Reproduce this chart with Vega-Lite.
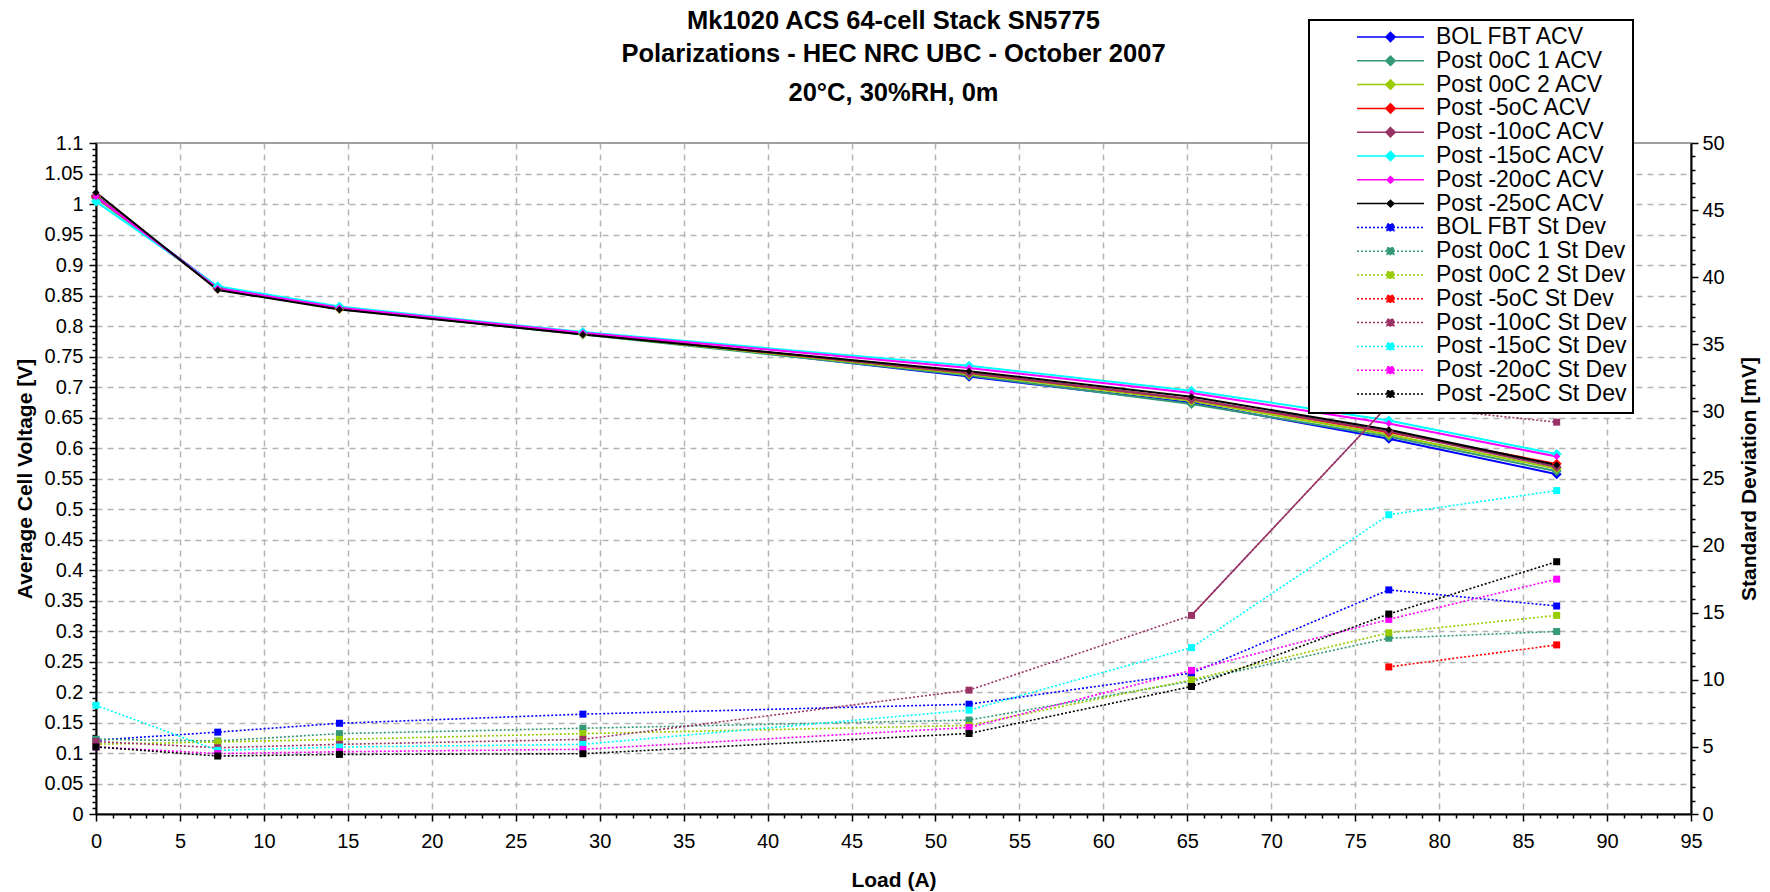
{
  "$schema": "https://vega.github.io/schema/vega-lite/v6.json",
  "width": 1595,
  "height": 671,
  "autosize": {"type": "none"},
  "padding": {"left": 96, "top": 143, "right": 79, "bottom": 78},
  "background": "white",
  "config": {
    "font": "Liberation Sans",
    "view": {"stroke": "#808080", "strokeWidth": 1.5}
  },
  "title": {
    "text": ["Mk1020 ACS 64-cell Stack SN5775", "Polarizations - HEC NRC UBC - October 2007"],
    "subtitle": "20°C, 30%RH, 0m",
    "font": "Liberation Sans",
    "fontSize": 25.5,
    "fontWeight": "bold",
    "color": "black",
    "subtitleFont": "Liberation Sans",
    "subtitleFontSize": 25.5,
    "subtitleFontWeight": "bold",
    "subtitleColor": "black",
    "lineHeight": 33,
    "subtitleLineHeight": 33,
    "subtitlePadding": 13,
    "anchor": "middle",
    "offset": -87
  },
  "datasets": {
    "acv": [
      {"load": 0, "series": "BOL FBT ACV", "v": 1.012}, {"load": 7.25, "series": "BOL FBT ACV", "v": 0.864}, {"load": 14.5, "series": "BOL FBT ACV", "v": 0.830}, {"load": 29, "series": "BOL FBT ACV", "v": 0.789}, {"load": 52, "series": "BOL FBT ACV", "v": 0.717}, {"load": 65.25, "series": "BOL FBT ACV", "v": 0.674}, {"load": 77, "series": "BOL FBT ACV", "v": 0.615}, {"load": 87, "series": "BOL FBT ACV", "v": 0.557},
      {"load": 0, "series": "Post 0oC 1 ACV", "v": 1.010}, {"load": 7.25, "series": "Post 0oC 1 ACV", "v": 0.862}, {"load": 14.5, "series": "Post 0oC 1 ACV", "v": 0.828}, {"load": 29, "series": "Post 0oC 1 ACV", "v": 0.786}, {"load": 52, "series": "Post 0oC 1 ACV", "v": 0.719}, {"load": 65.25, "series": "Post 0oC 1 ACV", "v": 0.672}, {"load": 77, "series": "Post 0oC 1 ACV", "v": 0.619}, {"load": 87, "series": "Post 0oC 1 ACV", "v": 0.562},
      {"load": 0, "series": "Post 0oC 2 ACV", "v": 1.012}, {"load": 7.25, "series": "Post 0oC 2 ACV", "v": 0.861}, {"load": 14.5, "series": "Post 0oC 2 ACV", "v": 0.828}, {"load": 29, "series": "Post 0oC 2 ACV", "v": 0.787}, {"load": 52, "series": "Post 0oC 2 ACV", "v": 0.721}, {"load": 65.25, "series": "Post 0oC 2 ACV", "v": 0.677}, {"load": 77, "series": "Post 0oC 2 ACV", "v": 0.622}, {"load": 87, "series": "Post 0oC 2 ACV", "v": 0.566},
      {"load": 0, "series": "Post -5oC ACV", "v": 1.012}, {"load": 7.25, "series": "Post -5oC ACV", "v": 0.862}, {"load": 14.5, "series": "Post -5oC ACV", "v": 0.829}, {"load": 29, "series": "Post -5oC ACV", "v": 0.788}, {"load": 52, "series": "Post -5oC ACV", "v": 0.723}, {"load": 65.25, "series": "Post -5oC ACV", "v": 0.680}, {"load": 77, "series": "Post -5oC ACV", "v": 0.626}, {"load": 87, "series": "Post -5oC ACV", "v": 0.574},
      {"load": 0, "series": "Post -10oC ACV", "v": 1.014}, {"load": 7.25, "series": "Post -10oC ACV", "v": 0.861}, {"load": 14.5, "series": "Post -10oC ACV", "v": 0.829}, {"load": 29, "series": "Post -10oC ACV", "v": 0.788}, {"load": 52, "series": "Post -10oC ACV", "v": 0.723}, {"load": 65.25, "series": "Post -10oC ACV", "v": 0.680}, {"load": 77, "series": "Post -10oC ACV", "v": 0.627}, {"load": 87, "series": "Post -10oC ACV", "v": 0.569},
      {"load": 0, "series": "Post -15oC ACV", "v": 1.004}, {"load": 7.25, "series": "Post -15oC ACV", "v": 0.865}, {"load": 14.5, "series": "Post -15oC ACV", "v": 0.832}, {"load": 29, "series": "Post -15oC ACV", "v": 0.790}, {"load": 52, "series": "Post -15oC ACV", "v": 0.735}, {"load": 65.25, "series": "Post -15oC ACV", "v": 0.694}, {"load": 77, "series": "Post -15oC ACV", "v": 0.645}, {"load": 87, "series": "Post -15oC ACV", "v": 0.590},
      {"load": 0, "series": "Post -20oC ACV", "v": 1.012}, {"load": 7.25, "series": "Post -20oC ACV", "v": 0.862}, {"load": 14.5, "series": "Post -20oC ACV", "v": 0.830}, {"load": 29, "series": "Post -20oC ACV", "v": 0.789}, {"load": 52, "series": "Post -20oC ACV", "v": 0.731}, {"load": 65.25, "series": "Post -20oC ACV", "v": 0.690}, {"load": 77, "series": "Post -20oC ACV", "v": 0.640}, {"load": 87, "series": "Post -20oC ACV", "v": 0.586},
      {"load": 0, "series": "Post -25oC ACV", "v": 1.019}, {"load": 7.25, "series": "Post -25oC ACV", "v": 0.859}, {"load": 14.5, "series": "Post -25oC ACV", "v": 0.827}, {"load": 29, "series": "Post -25oC ACV", "v": 0.786}, {"load": 52, "series": "Post -25oC ACV", "v": 0.726}, {"load": 65.25, "series": "Post -25oC ACV", "v": 0.684}, {"load": 77, "series": "Post -25oC ACV", "v": 0.630}, {"load": 87, "series": "Post -25oC ACV", "v": 0.572}
    ],
    "sd": [
      {"load": 0, "series": "BOL FBT St Dev", "v": 5.5}, {"load": 7.25, "series": "BOL FBT St Dev", "v": 6.1}, {"load": 14.5, "series": "BOL FBT St Dev", "v": 6.76}, {"load": 29, "series": "BOL FBT St Dev", "v": 7.44}, {"load": 52, "series": "BOL FBT St Dev", "v": 8.18}, {"load": 65.25, "series": "BOL FBT St Dev", "v": 10.5}, {"load": 77, "series": "BOL FBT St Dev", "v": 16.7}, {"load": 87, "series": "BOL FBT St Dev", "v": 15.5},
      {"load": 0, "series": "Post 0oC 1 St Dev", "v": 5.57}, {"load": 7.25, "series": "Post 0oC 1 St Dev", "v": 5.44}, {"load": 14.5, "series": "Post 0oC 1 St Dev", "v": 5.99}, {"load": 29, "series": "Post 0oC 1 St Dev", "v": 6.39}, {"load": 52, "series": "Post 0oC 1 St Dev", "v": 7.0}, {"load": 65.25, "series": "Post 0oC 1 St Dev", "v": 9.9}, {"load": 77, "series": "Post 0oC 1 St Dev", "v": 13.1}, {"load": 87, "series": "Post 0oC 1 St Dev", "v": 13.6},
      {"load": 0, "series": "Post 0oC 2 St Dev", "v": 5.2}, {"load": 7.25, "series": "Post 0oC 2 St Dev", "v": 5.37}, {"load": 14.5, "series": "Post 0oC 2 St Dev", "v": 5.56}, {"load": 29, "series": "Post 0oC 2 St Dev", "v": 5.99}, {"load": 52, "series": "Post 0oC 2 St Dev", "v": 6.6}, {"load": 65.25, "series": "Post 0oC 2 St Dev", "v": 10.0}, {"load": 77, "series": "Post 0oC 2 St Dev", "v": 13.5}, {"load": 87, "series": "Post 0oC 2 St Dev", "v": 14.8},
      {"load": 77, "series": "Post -5oC St Dev", "v": 10.96}, {"load": 87, "series": "Post -5oC St Dev", "v": 12.6},
      {"load": 0, "series": "Post -10oC St Dev", "v": 5.4}, {"load": 7.25, "series": "Post -10oC St Dev", "v": 4.94}, {"load": 14.5, "series": "Post -10oC St Dev", "v": 5.19}, {"load": 29, "series": "Post -10oC St Dev", "v": 5.56}, {"load": 52, "series": "Post -10oC St Dev", "v": 9.23}, {"load": 65.25, "series": "Post -10oC St Dev", "v": 14.8}, {"load": 77, "series": "Post -10oC St Dev", "v": 30.5}, {"load": 87, "series": "Post -10oC St Dev", "v": 29.2},
      {"load": 0, "series": "Post -15oC St Dev", "v": 8.1}, {"load": 7.25, "series": "Post -15oC St Dev", "v": 4.74}, {"load": 14.5, "series": "Post -15oC St Dev", "v": 4.99}, {"load": 29, "series": "Post -15oC St Dev", "v": 5.19}, {"load": 52, "series": "Post -15oC St Dev", "v": 7.74}, {"load": 65.25, "series": "Post -15oC St Dev", "v": 12.4}, {"load": 77, "series": "Post -15oC St Dev", "v": 22.3}, {"load": 87, "series": "Post -15oC St Dev", "v": 24.1},
      {"load": 0, "series": "Post -20oC St Dev", "v": 5.0}, {"load": 7.25, "series": "Post -20oC St Dev", "v": 4.5}, {"load": 14.5, "series": "Post -20oC St Dev", "v": 4.64}, {"load": 29, "series": "Post -20oC St Dev", "v": 4.82}, {"load": 52, "series": "Post -20oC St Dev", "v": 6.45}, {"load": 65.25, "series": "Post -20oC St Dev", "v": 10.7}, {"load": 77, "series": "Post -20oC St Dev", "v": 14.5}, {"load": 87, "series": "Post -20oC St Dev", "v": 17.5},
      {"load": 0, "series": "Post -25oC St Dev", "v": 5.0}, {"load": 7.25, "series": "Post -25oC St Dev", "v": 4.32}, {"load": 14.5, "series": "Post -25oC St Dev", "v": 4.44}, {"load": 29, "series": "Post -25oC St Dev", "v": 4.49}, {"load": 52, "series": "Post -25oC St Dev", "v": 6.0}, {"load": 65.25, "series": "Post -25oC St Dev", "v": 9.5}, {"load": 77, "series": "Post -25oC St Dev", "v": 14.9}, {"load": 87, "series": "Post -25oC St Dev", "v": 18.8}
    ]
  },
  "layer": [
    {
      "data": {"name": "acv"},
      "encoding": {
        "x": {
          "field": "load", "type": "quantitative",
          "scale": {"domain": [0, 95], "nice": false, "zero": false},
          "axis": {
            "title": "Load (A)", "titleFont": "Liberation Sans", "titleFontSize": 21, "titleFontWeight": "bold", "titleColor": "black", "titlePadding": 18,
            "tickCount": 95,
            "labelExpr": "datum.value % 5 === 0 ? datum.label : ''",
            "labelFont": "Liberation Sans", "labelFontSize": 20, "labelColor": "black", "labelOverlap": false, "labelFlush": false, "labelPadding": 10,
            "domainColor": "black", "domainWidth": 2,
            "tickColor": "black", "tickWidth": 1.5,
            "tickSize": {"condition": {"test": "datum.value % 5 === 0", "value": 7}, "value": 4},
            "grid": true, "gridColor": "#b4b4b4", "gridWidth": 1.5, "gridDash": [6, 5],
            "gridOpacity": {"condition": {"test": "datum.value % 5 === 0 && datum.value > 0 && datum.value < 95", "value": 1}, "value": 0}
          }
        },
        "y": {
          "field": "v", "type": "quantitative",
          "scale": {"domain": [0, 1.1], "nice": false, "zero": false},
          "axis": {
            "orient": "left",
            "title": "Average Cell Voltage [V]", "titleFont": "Liberation Sans", "titleFontSize": 21, "titleFontWeight": "bold", "titleColor": "black", "titlePadding": 9,
            "tickCount": 110,
            "labelExpr": "abs(datum.value*20 - round(datum.value*20)) < 0.001 ? format(datum.value, '~g') : ''",
            "labelFont": "Liberation Sans", "labelFontSize": 20, "labelColor": "black", "labelOverlap": false, "labelFlush": false, "labelPadding": 6,
            "domainColor": "black", "domainWidth": 2,
            "tickColor": "black", "tickWidth": 1.5,
            "tickSize": {"condition": {"test": "abs(datum.value*20 - round(datum.value*20)) < 0.001", "value": 7}, "value": 4},
            "grid": true, "gridColor": "#b4b4b4", "gridWidth": 1.5, "gridDash": [6, 5],
            "gridOpacity": {"condition": {"test": "abs(datum.value*20 - round(datum.value*20)) < 0.001 && datum.value > 0.001 && datum.value < 1.09", "value": 1}, "value": 0}
          }
        },
        "color": {
          "field": "series", "type": "nominal",
          "scale": {
            "domain": ["BOL FBT ACV", "Post 0oC 1 ACV", "Post 0oC 2 ACV", "Post -5oC ACV", "Post -10oC ACV", "Post -15oC ACV", "Post -20oC ACV", "Post -25oC ACV", "BOL FBT St Dev", "Post 0oC 1 St Dev", "Post 0oC 2 St Dev", "Post -5oC St Dev", "Post -10oC St Dev", "Post -15oC St Dev", "Post -20oC St Dev", "Post -25oC St Dev"],
            "range": ["#0000FF", "#339977", "#99CC00", "#FF0000", "#993366", "#00FFFF", "#FF00FF", "#000000", "#0000FF", "#339977", "#99CC00", "#FF0000", "#993366", "#00FFFF", "#FF00FF", "#000000"]
          },
          "legend": {
            "title": null,
            "orient": "none",
            "legendX": 1213,
            "legendY": -123,
            "direction": "vertical",
            "fillColor": "white",
            "strokeColor": "black",
            "padding": 6,
            "labelFont": "Liberation Sans",
            "labelFontSize": 23,
            "labelColor": "black",
            "labelLimit": 500,
            "symbolSize": 4489,
            "symbolStrokeWidth": 1.5,
            "symbolOffset": 41,
            "labelOffset": 11,
            "clipHeight": 22,
            "rowPadding": 0.8,
            "encode": {
              "legend": {"update": {"strokeWidth": {"value": 2}}},
              "symbols": {
                "update": {
                  "shape": {"signal": "indexof(datum.value,'St Dev')>=0 ? 'M-1,0H1M-0.1,-0.1H0.1V0.1H-0.1ZM7.98,0' : ((indexof(datum.value,'-20oC')>=0 || indexof(datum.value,'-25oC')>=0) ? 'M-1,0H1M0,-0.1L0.1,0L0,0.1L-0.1,0ZM7.98,0' : 'M-1,0H1M0,-0.14L0.14,0L0,0.14L-0.14,0ZM7.98,0')"},
                  "strokeDash": {"signal": "indexof(datum.value,'St Dev')>=0 ? [2,2] : [1,0]"},
                  "fill": {"scale": "color", "field": "value"},
                  "stroke": {"scale": "color", "field": "value"},
                  "opacity": {"value": 1}
                }
              }
            }
          }
        }
      },
      "layer": [
        {"mark": {"type": "line", "strokeWidth": 2}},
        {
          "mark": {"type": "point", "shape": "diamond", "filled": true, "opacity": 1, "strokeWidth": 0},
          "encoding": {
            "size": {"condition": {"test": "datum.series === 'Post -20oC ACV' || datum.series === 'Post -25oC ACV'", "value": 49}, "value": 100}
          }
        }
      ]
    },
    {
      "data": {"name": "sd"},
      "encoding": {
        "x": {"field": "load", "type": "quantitative"},
        "y": {
          "field": "v", "type": "quantitative",
          "scale": {"domain": [0, 50], "nice": false, "zero": false},
          "axis": {
            "orient": "right",
            "title": "Standard Deviation [mV]", "titleFont": "Liberation Sans", "titleFontSize": 21, "titleFontWeight": "bold", "titleColor": "black", "titlePadding": 35, "titleAngle": 270,
            "tickCount": 50,
            "labelExpr": "datum.value % 5 === 0 ? datum.label : ''",
            "labelFont": "Liberation Sans", "labelFontSize": 20, "labelColor": "black", "labelOverlap": false, "labelFlush": false, "labelPadding": 4,
            "domainColor": "black", "domainWidth": 2,
            "tickColor": "black", "tickWidth": 1.5,
            "tickSize": {"condition": {"test": "datum.value % 5 === 0", "value": 7}, "value": 4},
            "grid": false
          }
        },
        "color": {"field": "series", "type": "nominal"}
      },
      "layer": [
        {"mark": {"type": "line", "strokeWidth": 1.6, "strokeDash": [2, 2]}},
        {
          "transform": [{"filter": "datum.series === 'Post -10oC St Dev' && datum.load > 60 && datum.load < 80"}],
          "mark": {"type": "line", "strokeWidth": 1.5}
        },
        {"mark": {"type": "point", "shape": "square", "filled": true, "opacity": 1, "strokeWidth": 0, "size": 49}}
      ]
    }
  ],
  "resolve": {"scale": {"y": "independent"}}
}
